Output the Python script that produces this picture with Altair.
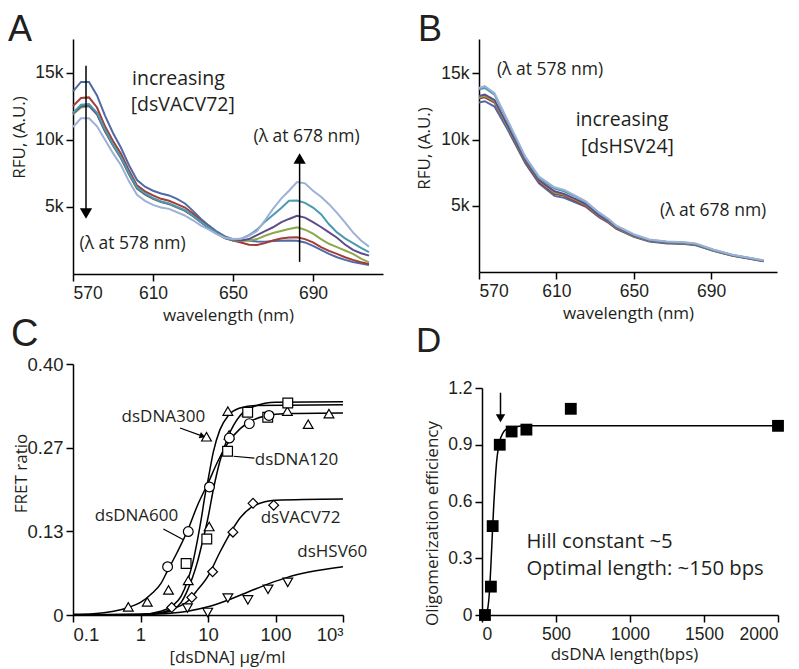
import altair as alt
import pandas as pd

TICK_FONT = "Liberation Sans"
TEXT_FONT = "Open Sans"
INK = "#231f20"

# ---------------- Panel A : dsVACV72 titration spectra ----------------
A_NM = [570, 574, 578, 582, 586, 590, 594, 598, 602, 606, 610, 614, 618, 622, 626, 630, 634, 638, 642,
        646, 650, 654, 658, 662, 666, 670, 674, 678, 682, 686, 690, 694, 698, 702, 706, 710, 714, 718]
A_SERIES = ["a1", "a2", "a3", "a4", "a5", "a6"]
A_COLORS = ["#4f6aa6", "#a23c37", "#8ea94b", "#5e4b8c", "#4b9ab0", "#9db0d6"]
A1 = [13600, 14300, 14300, 13300, 11800, 10500, 9400, 8100, 7000, 6500, 6200, 6000, 5850, 5600, 5250, 4700, 4100, 3600, 3150,
      2800, 2600, 2550, 2500, 2420, 2400, 2450, 2480, 2500, 2480, 2350, 2100, 1800, 1500, 1250, 1050, 900, 780, 670]
A2 = [12500, 13100, 13150, 12400, 11000, 9900, 8950, 7700, 6600, 6150, 5850, 5600, 5450, 5200, 4950, 4500, 3950, 3500, 3050,
      2700, 2500, 2350, 2180, 2160, 2300, 2500, 2650, 2720, 2740, 2600, 2360, 2000, 1720, 1500, 1250, 1050, 880, 750]
A3 = [11900, 12400, 12500, 11900, 10600, 9550, 8600, 7400, 6350, 5900, 5600, 5350, 5200, 4950, 4700, 4300, 3850, 3400, 3000,
      2650, 2500, 2450, 2490, 2600, 2850, 3050, 3200, 3350, 3470, 3300, 3000, 2600, 2250, 2000, 1750, 1500, 1150, 870]
A4 = [11950, 12500, 12550, 11900, 10650, 9600, 8650, 7450, 6400, 5950, 5620, 5380, 5220, 4980, 4720, 4320, 3850, 3420, 3020,
      2680, 2520, 2500, 2600, 2900, 3200, 3480, 3850, 4100, 4330, 4200, 3860, 3500, 3100, 2700, 2200, 1800, 1550, 1370]
A5 = [12000, 12600, 12650, 12000, 10750, 9650, 8700, 7500, 6450, 6000, 5650, 5400, 5250, 5000, 4750, 4350, 3880, 3450, 3050,
      2700, 2550, 2620, 2900, 3300, 3900, 4400, 4900, 5450, 5470, 5300, 4950, 4450, 3700, 3100, 2650, 2300, 1950, 1620]
A6 = [10950, 11600, 11600, 11000, 10000, 9000, 8100, 6900, 5900, 5450, 5150, 4950, 4850, 4600, 4350, 4000, 3600, 3300, 2950,
      2700, 2600, 2620, 2850, 3200, 4000, 4850, 5600, 6200, 6850, 6750, 6200, 5750, 5200, 4550, 3850, 3100, 2500, 2040]

# ---------------- Panel B : dsHSV24 titration spectra ----------------
B_NM = [570, 573, 578, 585, 594, 601, 609, 614, 620, 625, 632, 637, 641, 650, 658, 667, 676, 682, 691, 701, 709, 717]
B_SERIES = ["b1", "b2", "b3", "b4", "b5", "b6"]
B_COLORS = ["#6a4f95", "#a8484a", "#c4bf4c", "#8fb04f", "#8acde2", "#4f86c4"]
B1 = [12800, 12900, 12500, 10700, 8200, 6700, 5750, 5600, 5250, 4950, 4150, 3700, 3250, 2650, 2300, 2150, 2120, 2020, 1600, 1220, 1020, 820]
B2 = [13100, 13200, 12800, 10850, 8300, 6800, 5900, 5750, 5350, 5000, 4200, 3750, 3300, 2700, 2340, 2200, 2160, 2060, 1620, 1240, 1040, 830]
B3 = [13200, 13300, 12900, 10900, 8400, 6900, 6000, 5850, 5450, 5100, 4250, 3800, 3350, 2720, 2360, 2220, 2180, 2080, 1630, 1250, 1050, 840]
B4 = [13300, 13400, 13000, 11000, 8450, 6950, 6100, 5900, 5500, 5150, 4300, 3850, 3380, 2750, 2380, 2240, 2200, 2100, 1650, 1260, 1060, 850]
B5 = [13800, 13900, 13400, 11300, 8600, 7100, 6300, 6100, 5700, 5300, 4450, 3950, 3450, 2800, 2420, 2280, 2220, 2120, 1680, 1280, 1080, 860]
B6 = [13900, 14050, 13500, 11400, 8700, 7200, 6400, 6200, 5750, 5350, 4500, 4000, 3500, 2850, 2450, 2300, 2250, 2150, 1700, 1300, 1100, 880]

# ---------------- Panel C : FRET titrations ----------------
C_TRI_X = [0.66, 1.26, 2.6, 5.1, 10.4, 9.5, 20.5, 19.7, 38, 150, 305, 620]
C_TRI_Y = [0.013, 0.021, 0.040, 0.055, 0.141, 0.284, 0.287, 0.325, 0.324, 0.325, 0.304, 0.321]
C_SQ_X = [4.74, 9.6, 19.5, 38.7, 76.7, 152]
C_SQ_Y = [0.082, 0.121, 0.261, 0.323, 0.315, 0.338]
C_CIR_X = [2.52, 5.1, 10.5, 20.7, 41, 80]
C_CIR_Y = [0.077, 0.133, 0.204, 0.282, 0.305, 0.318]
C_DIA_X = [2.9, 5.75, 11.7, 23.4, 46.4, 94]
C_DIA_Y = [0.012, 0.028, 0.069, 0.132, 0.178, 0.175]
C_TRD_X = [4.96, 9.9, 19.7, 39, 77.5, 152]
C_TRD_Y = [0.011, 0.004, 0.027, 0.024, 0.041, 0.052]

# fitted curves
FIT600_X = [0.1, 0.2, 0.4, 0.66, 1, 1.5, 2, 2.5, 3.5, 5, 7, 10, 14, 20, 30, 45, 70, 150, 1000]
FIT600_Y = [0.001, 0.002, 0.006, 0.012, 0.02, 0.035, 0.05, 0.07, 0.1, 0.135, 0.175, 0.21, 0.245, 0.275, 0.297, 0.31, 0.317, 0.321, 0.322]
FIT300_X = [0.1, 1, 2, 3, 4, 5, 6, 7, 8, 9, 10, 12, 15, 20, 30, 50, 1000]
FIT300_Y = [0.0, 0.001, 0.006, 0.015, 0.03, 0.055, 0.085, 0.12, 0.155, 0.19, 0.215, 0.26, 0.295, 0.318, 0.33, 0.334, 0.335]
FIT120_X = [0.1, 1, 2, 3, 4, 5, 6, 7, 8, 10, 12, 15, 20, 30, 50, 100, 1000]
FIT120_Y = [0.0, 0.0005, 0.003, 0.008, 0.02, 0.04, 0.062, 0.085, 0.11, 0.155, 0.2, 0.245, 0.285, 0.318, 0.333, 0.339, 0.34]
FITVACV_X = [0.1, 1, 2, 3, 5, 7, 10, 15, 20, 30, 50, 100, 1000]
FITVACV_Y = [0.0, 0.001, 0.004, 0.01, 0.022, 0.04, 0.062, 0.1, 0.125, 0.155, 0.175, 0.183, 0.185]
FITHSV_X = [0.1, 1, 3, 5, 10, 20, 40, 80, 150, 300, 1000]
FITHSV_Y = [0.0, 0.0005, 0.003, 0.006, 0.013, 0.024, 0.037, 0.05, 0.06, 0.068, 0.077]

# ---------------- Panel D : length dependence ----------------
D_LEN = [20, 60, 72, 120, 200, 300, 600, 2000]
D_EFF = [0.0, 0.15, 0.47, 0.90, 0.97, 0.98, 1.09, 1.00]
D_FIT_X = [20, 30, 40, 50, 60, 70, 80, 90, 100, 110, 120, 140, 160, 200, 300, 2000]
D_FIT_Y = [0.0, 0.01, 0.04, 0.12, 0.26, 0.43, 0.59, 0.72, 0.82, 0.88, 0.92, 0.96, 0.98, 0.99, 1.0, 1.0]


def axis(values, title, expr=None, **kw):
    args = dict(values=values, title=title, grid=False, domainColor="black", tickColor="black",
                domainWidth=1.5, tickWidth=1.5, tickSize=7, labelFont=TICK_FONT, labelFontSize=17.5,
                labelColor=INK, titleFont=TEXT_FONT, titleFontSize=17, titleFontWeight="normal",
                titleColor=INK, labelPadding=3)
    if expr is not None:
        args["labelExpr"] = expr
    args.update(kw)
    return alt.Axis(**args)


def letter(t, px, py, fs):
    return alt.Chart(pd.DataFrame({"t": [t]})).mark_text(
        font=TICK_FONT, fontSize=fs, color=INK, align="left", baseline="alphabetic").encode(
        x=alt.value(px), y=alt.value(py), text="t:N")


def spectra(nm, series, colors, arrays, xdom, ydom, ytx):
    rows = []
    for s, arr in zip(series, arrays):
        for x, v in zip(nm, arr):
            rows.append({"nm": x, "val": v, "series": s})
    df = pd.DataFrame(rows)
    xs = alt.Scale(domain=xdom, nice=False, zero=False)
    ys = alt.Scale(domain=ydom, nice=False)
    lines = alt.Chart(df).mark_line(strokeWidth=2).encode(
        x=alt.X("nm:Q", scale=xs, axis=axis([570, 610, 650, 690], "wavelength (nm)", titlePadding=6)),
        y=alt.Y("val:Q", scale=ys, axis=axis([5000, 10000, 15000], "RFU,  (A.U.)",
                                              "datum.value/1000 + 'k'", titleX=ytx[0], titleY=ytx[1])),
        color=alt.Color("series:N", scale=alt.Scale(domain=series, range=colors), legend=None),
        order=alt.Order("series:N"),
    )
    return lines, xs, ys


# ----- A -----
linesA, xsA, ysA = spectra(A_NM, A_SERIES, A_COLORS, [A1, A2, A3, A4, A5, A6], [570, 725], [0, 17500], (-45, 98))
arrA = pd.DataFrame({"x": [576.5, 683.3], "y1": [15500, 900], "y2": [4700, 8300],
                     "hy": [4500, 8600], "shape": ["triangle-down", "triangle-up"]})
ruleA = alt.Chart(arrA).mark_rule(strokeWidth=1.5, color="black").encode(
    x=alt.X("x:Q", scale=xsA), y=alt.Y("y1:Q", scale=ysA), y2="y2:Q")
headA = alt.Chart(arrA).mark_point(filled=True, color="black", size=150, opacity=1).encode(
    x=alt.X("x:Q", scale=xsA), y=alt.Y("hy:Q", scale=ysA), shape=alt.Shape("shape:N", scale=None))
txtA = pd.DataFrame({"x": [622.7, 624.9, 599.8, 686.8], "y": [14500, 12560, 2240, 10200],
                     "t": ["increasing", "[dsVACV72]", "(λ at 578 nm)", "(λ at 678 nm)"],
                     "fs": [19.5, 19.5, 17.5, 17.5]})
textA = alt.Chart(txtA).mark_text(font=TEXT_FONT, color=INK, baseline="middle").encode(
    x=alt.X("x:Q", scale=xsA), y=alt.Y("y:Q", scale=ysA), text="t:N", size=alt.Size("fs:Q", scale=None))
panelA = alt.layer(linesA, ruleA, headA, textA, letter("A", -65, 2, 36)).properties(width=310, height=235)

# ----- B -----
linesB, xsB, ysB = spectra(B_NM, B_SERIES, B_COLORS, [B1, B2, B3, B4, B5, B6], [570, 724], [0, 17600], (-46, 109))
txtB = pd.DataFrame({"x": [606.7, 643.9, 646.7, 691], "y": [15250, 11460, 9450, 4570],
                     "t": ["(λ at 578 nm)", "increasing", "[dsHSV24]", "(λ at 678 nm)"],
                     "fs": [17.5, 19.5, 19.5, 17.5]})
textB = alt.Chart(txtB).mark_text(font=TEXT_FONT, color=INK, baseline="middle").encode(
    x=alt.X("x:Q", scale=xsB), y=alt.Y("y:Q", scale=ysB), text="t:N", size=alt.Size("fs:Q", scale=None))
panelB = alt.layer(linesB, textB, letter("B", -61, 2, 36)).properties(width=298, height=233)

# ----- C -----
xsC = alt.Scale(type="log", domain=[0.1, 1000], nice=False)
ysC = alt.Scale(domain=[0, 0.4], nice=False)
fit_rows = []
for name, xs_, ys_ in [("600", FIT600_X, FIT600_Y), ("300", FIT300_X, FIT300_Y), ("120", FIT120_X, FIT120_Y),
                       ("vacv", FITVACV_X, FITVACV_Y), ("hsv", FITHSV_X, FITHSV_Y)]:
    for a, b in zip(xs_, ys_):
        fit_rows.append({"x": a, "y": b, "s": name})
fitC = alt.Chart(pd.DataFrame(fit_rows)).mark_line(color="black", strokeWidth=1.5, interpolate="monotone").encode(
    x=alt.X("x:Q", scale=xsC, axis=axis([0.1, 1, 10, 100, 1000], "[dsDNA] µg/ml",
                                         "datum.value == 1000 ? '10³' : format(datum.value, '')",
                                         labelFontSize=18.5, titleX=154, titlePadding=6)),
    y=alt.Y("y:Q", scale=ysC, axis=axis([0, 0.4 / 3, 0.8 / 3, 0.4], "FRET ratio",
                                         "datum.value == 0 ? '0' : format(datum.value, '.2f')",
                                         labelFontSize=18.5, titleX=-43, titleY=109)),
    detail="s:N",
)
pt_rows = []
for shp, xs_, ys_ in [("triangle-up", C_TRI_X, C_TRI_Y), ("square", C_SQ_X, C_SQ_Y), ("circle", C_CIR_X, C_CIR_Y),
                      ("diamond", C_DIA_X, C_DIA_Y), ("triangle-down", C_TRD_X, C_TRD_Y)]:
    for a, b in zip(xs_, ys_):
        pt_rows.append({"x": a, "y": b, "shape": shp})
ptsC = alt.Chart(pd.DataFrame(pt_rows)).mark_point(filled=True, fill="white", stroke="black", strokeWidth=1.2,
                                                   size=95, opacity=1).encode(
    x=alt.X("x:Q", scale=xsC), y=alt.Y("y:Q", scale=ysC), shape=alt.Shape("shape:N", scale=None))
lblC = pd.DataFrame({"x": [2.18, 205, 0.873, 235, 693], "y": [0.315, 0.247, 0.158, 0.154, 0.100],
                     "t": ["dsDNA300", "dsDNA120", "dsDNA600", "dsVACV72", "dsHSV60"]})
textC = alt.Chart(lblC).mark_text(font=TEXT_FONT, fontSize=17, color=INK, baseline="middle").encode(
    x=alt.X("x:Q", scale=xsC), y=alt.Y("y:Q", scale=ysC), text="t:N")
leadC = pd.DataFrame({"x": [3.85, 23.9, 2.18], "y": [0.298, 0.253, 0.137],
                      "x2": [8.3, 48.6, 4.33], "y2": [0.285, 0.250, 0.120]})
ruleC = alt.Chart(leadC).mark_rule(color="black", strokeWidth=1.2).encode(
    x=alt.X("x:Q", scale=xsC), y=alt.Y("y:Q", scale=ysC), x2="x2:Q", y2="y2:Q")
headC = alt.Chart(pd.DataFrame({"x": [8.3], "y": [0.285]})).mark_point(
    shape="triangle-right", angle=20, filled=True, color="black", size=45, opacity=1).encode(
    x=alt.X("x:Q", scale=xsC), y=alt.Y("y:Q", scale=ysC))
panelC = alt.layer(fitC, ruleC, headC, ptsC, textC, letter("C", -62, -18, 38)).properties(width=270, height=251)

# ----- D -----
xsD = alt.Scale(domain=[0, 2000], nice=False)
ysD = alt.Scale(domain=[0, 1.2], range=[251, 24], nice=False)
fitD = alt.Chart(pd.DataFrame({"x": D_FIT_X, "y": D_FIT_Y})).mark_line(
    color="black", strokeWidth=1.5, interpolate="monotone").encode(
    x=alt.X("x:Q", scale=xsD, axis=axis([0, 500, 1000, 1500, 2000], "dsDNA length(bps)", format="d",
                                         titleX=142, titlePadding=4)),
    y=alt.Y("y:Q", scale=ysD, axis=axis([0, 0.3, 0.6, 0.9, 1.2], "Oligomerization efficiency",
                                         "datum.value == 0 ? '0' : format(datum.value, '.1f')",
                                         titleX=-41, titleY=159)))
ptsD = alt.Chart(pd.DataFrame({"x": D_LEN, "y": D_EFF})).mark_square(color="black", size=140, opacity=1).encode(
    x=alt.X("x:Q", scale=xsD), y=alt.Y("y:Q", scale=ysD))
arrD = pd.DataFrame({"x": [125], "y": [1.175], "y2": [1.04]})
ruleD = alt.Chart(arrD).mark_rule(color="black", strokeWidth=1.5).encode(
    x=alt.X("x:Q", scale=xsD), y=alt.Y("y:Q", scale=ysD), y2="y2:Q")
headD = alt.Chart(arrD).mark_point(shape="triangle-down", filled=True, color="black", size=90, opacity=1).encode(
    x=alt.X("x:Q", scale=xsD), y=alt.Y("y2:Q", scale=ysD))
txtD = pd.DataFrame({"x": [300, 300], "y": [0.353, 0.212], "t": ["Hill constant ~5", "Optimal length: ~150 bps"]})
textD = alt.Chart(txtD).mark_text(font=TEXT_FONT, fontSize=20.3, color=INK, align="left",
                                  baseline="alphabetic").encode(
    x=alt.X("x:Q", scale=xsD), y=alt.Y("y:Q", scale=ysD), text="t:N")
panelD = alt.layer(fitD, ruleD, headD, ptsD, textD, letter("D", -66, -12, 35)).properties(width=296, height=251)

row1 = alt.hconcat(panelA, panelB, spacing=32)
row2 = alt.hconcat(panelC, panelD, spacing=48)
chart = alt.vconcat(row1, row2, spacing=-8).configure_view(stroke=None).properties(
    padding={"top": 4, "left": 0, "right": 0, "bottom": 5})

chart.save("out.html", embed_options={"renderer": "svg", "actions": False})
